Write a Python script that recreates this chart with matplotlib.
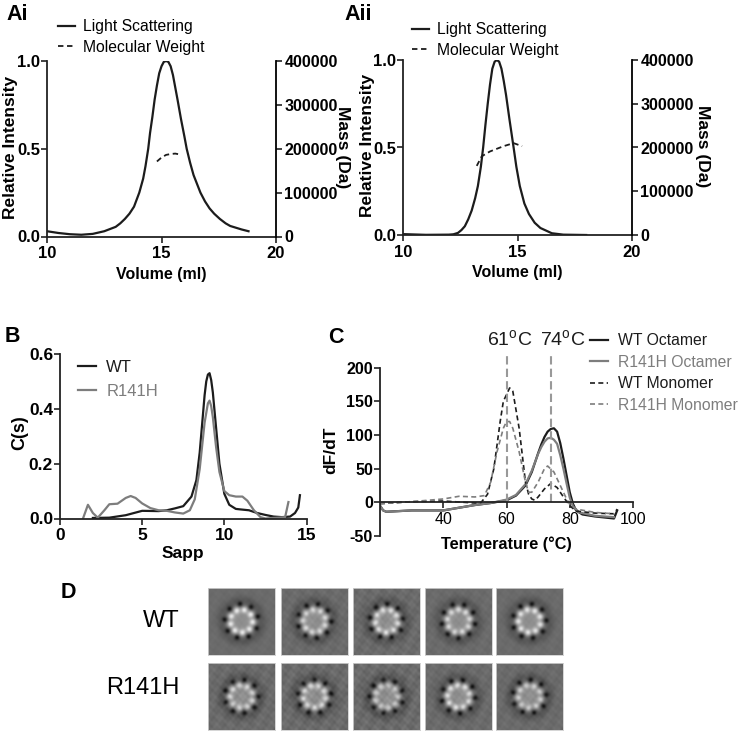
import numpy as np
import matplotlib
matplotlib.use('Agg')
import matplotlib.pyplot as plt

plt.rcParams['font.family'] = 'Liberation Sans'
plt.rcParams['mathtext.fontset'] = 'custom'
plt.rcParams['mathtext.rm'] = 'Liberation Sans'
plt.rcParams['axes.unicode_minus'] = False

W, H = 742, 733
BLACK = '#1c1c1c'
GREY = '#7d7d7d'

# Ai
AI_VOL = [10, 10.5, 11, 11.5, 12, 12.5, 13, 13.2, 13.4, 13.6, 13.8, 14.03, 14.2, 14.3, 14.42, 14.5, 14.6, 14.7,
          14.8, 14.9, 15, 15.1, 15.2, 15.3, 15.4, 15.5, 15.6, 15.7, 15.85, 16, 16.1, 16.25, 16.4, 16.55, 16.7,
          16.9, 17.1, 17.3, 17.55, 17.8, 18, 18.5, 18.8]
AI_LS = [.03, .02, .013, .01, .015, .03, .055, .075, .1, .13, .17, .25, .33, .4, .5, .59, .68, .78,
         .86, .93, .97, .995, 1.0, .995, .97, .92, .85, .78, .67, .57, .5, .42, .35, .3, .25,
         .2, .16, .13, .1, .075, .06, .04, .03]
AI_MW_VOL = [14.8, 15, 15.2, 15.4, 15.6, 15.8]
AI_MW = [171000, 180000, 186000, 188000, 189000, 187000]

# Aii
AII_VOL = [10, 11, 12, 12.2, 12.4, 12.55, 12.7, 12.85, 13, 13.15, 13.27, 13.4, 13.5, 13.6, 13.7, 13.8, 13.9, 14,
           14.1, 14.2, 14.3, 14.4, 14.5, 14.65, 14.83, 14.95, 15.1, 15.3, 15.5, 15.75, 16, 16.5, 17, 18]
AII_LS = [.005, .001, .002, .004, .012, .028, .05, .09, .14, .21, .28, .39, .5, .63, .75, .86, .95, .99,
          1.0, .99, .95, .88, .8, .66, .5, .39, .28, .18, .12, .07, .04, .01, .002, 0]
AII_MW_VOL = [13.22, 13.44, 13.8, 14.39, 14.83, 15.2]
AII_MW = [158000, 180000, 191000, 203000, 210000, 203000]

# B
WT_S = [2, 3, 4, 4.5, 5, 6, 6.5, 7, 7.5, 8, 8.3, 8.5, 8.7, 8.8, 8.9, 9, 9.1, 9.2, 9.3, 9.5, 9.7, 10, 10.3, 10.7,
        11, 11.5, 12, 12.5, 13, 13.5, 14, 14.3, 14.5, 14.6]
WT_C = [.002, .003, .012, .02, .028, .027, .03, .037, .045, .08, .14, .24, .38, .45, .5, .525, .53, .505, .46,
        .33, .2, .09, .05, .035, .033, .03, .02, .013, .007, .005, .007, .02, .04, .085]
MUT_S = [1.4, 1.7, 2, 2.3, 2.7, 3, 3.5, 4, 4.3, 4.6, 5, 5.5, 6, 6.5, 7, 7.5, 7.9, 8.2, 8.5, 8.8, 9, 9.1,
         9.2, 9.3, 9.5, 9.7, 10, 10.3, 10.7, 11.1, 11.4, 11.8, 12.2, 12.5, 13.7, 13.9]
MUT_C = [0, .05, .02, .003, .03, .052, .054, .075, .082, .075, .055, .038, .03, .028, .022, .018, .03,
         .07, .18, .35, .42, .43, .41, .37, .26, .17, .1, .085, .08, .08, .065, .03, .005, 0, .005, .06]

# C
WT_OCT_T = [20, 21, 22, 30, 40, 45, 50, 55, 60, 63, 66, 68, 70, 71, 72, 73, 74, 75, 76, 77, 78, 79, 80, 81, 82, 84,
            88, 92, 94, 95]
WT_OCT = [-5, -12, -14, -12, -12, -8, -4, -1, 3, 10, 25, 45, 73, 86, 97, 105, 109, 110, 105, 88, 65, 40, 15, -2, -12,
          -18, -21, -23, -24, -12]
MUT_OCT_T = [20, 21, 22, 30, 40, 45, 50, 55, 60, 63, 66, 68, 70, 71, 72, 73, 74, 75, 76, 77, 78, 79, 80, 81, 83, 88, 94]
MUT_OCT = [-5, -12, -14, -12, -12, -8, -4, -1, 4, 11, 27, 47, 72, 82, 90, 95, 96, 93, 87, 70, 50, 28, 7, -6, -15, -20, -22]
WT_MON_T = [20, 30, 40, 50, 52, 54, 56, 58, 59, 60, 61, 62, 64, 65, 66, 67, 68, 69, 70, 72, 74, 76, 78,
            80, 82, 88, 94, 95]
WT_MON = [-2, 1, 2, -1, 0, 12, 50, 120, 150, 160, 170, 165, 110, 70, 30, 12, 5, 3, 8, 20, 28, 22, 8,
          -5, -13, -16, -17, -10]
MUT_MON_T = [20, 30, 40, 45, 50, 53, 55, 57, 59, 60, 61, 62, 64, 66, 67, 68, 70, 72, 73, 75, 77, 79, 80,
             82, 88, 94]
MUT_MON = [-2, 1, 5, 9, 8, 10, 30, 75, 110, 120, 120, 110, 75, 30, 15, 15, 30, 50, 54, 45, 25, 5, -3,
           -10, -15, -17]
TM_LINES = [60.3, 74.2]
TM_LABELS = ['61$^{\\mathrm{o}}$C', '74$^{\\mathrm{o}}$C']

# D, rotation of the ring and lobe brightness of each class average
ROWS = ['WT', 'R141H']
ROTATION = [[5, 22, 12, 30, 18], [20, 10, 0, 25, 14]]
LOBES = [[1.0, .85, .9, .85, .95], [.8, .85, .7, .9, .75]]
SPECKLE = [[.5, 1.0, 1.3, .8, .6], [1.3, 1.5, 1.6, 1.1, 1.0]]
IMG_LEFT = [208, 281, 353, 425, 496]
IMG_TOP = [588, 663]


def px_axes(left, top, right, bottom):
    return fig.add_axes([left / W, 1 - bottom / H, (right - left) / W, (bottom - top) / H])


def tidy(ax, size=11.5):
    for side in ['top', 'right']:
        ax.spines[side].set_visible(False)
    for spine in ax.spines.values():
        spine.set_linewidth(1.3)
        spine.set_color('#222222')
    ax.tick_params(width=1.2, length=4, pad=3, labelsize=size, color='#222222')
    ax.tick_params(axis='y', pad=1)
    for lab in ax.get_xticklabels() + ax.get_yticklabels():
        lab.set_fontweight('bold')


def panel_a(left, top, bottom, vol, ls, mw_vol, mw, leg_x, leg_y, rel_x, mass_x):
    ax = px_axes(left, top, left + 229, bottom)
    ax.plot(vol, ls, color=BLACK, lw=1.6, label='Light Scattering')
    ax.plot([], [], color=BLACK, lw=1.3, ls=(0, (3, 2)), label='Molecular Weight')
    ax.set_xlim(10, 20)
    ax.set_ylim(0, 1)
    ax.set_xticks([10, 15, 20])
    ax.set_yticks([0, .5, 1])
    ax.set_yticklabels(['0.0', '0.5', '1.0'])
    tidy(ax, 12)
    ax.set_xlabel('Volume (ml)', fontsize=11.5, fontweight='bold', labelpad=4)
    ax.set_ylabel('Relative Intensity', fontsize=12.5, fontweight='bold')
    ax.yaxis.set_label_coords((rel_x - left) / 229, .51)

    ax2 = ax.twinx()
    ax2.plot(mw_vol, mw, color=BLACK, lw=1.3, ls=(0, (3, 2)))
    ax2.set_ylim(0, 400000)
    ax2.set_yticks([0, 100000, 200000, 300000, 400000])
    ax2.spines['top'].set_visible(False)
    ax2.spines['right'].set_linewidth(1.3)
    ax2.spines['left'].set_visible(False)
    ax2.spines['bottom'].set_visible(False)
    ax2.tick_params(width=1.2, length=4, pad=2, labelsize=11.5, color='#222222')
    for lab in ax2.get_yticklabels():
        lab.set_fontweight('bold')
    ax2.set_ylabel('Mass (Da)', fontsize=12.5, fontweight='bold', rotation=270)
    ax2.yaxis.set_label_coords((mass_x - left) / 229, .51)

    fig.legend(*ax.get_legend_handles_labels(), loc='center left', frameon=False, fontsize=11.3,
               bbox_to_anchor=(leg_x / W, 1 - leg_y / H), handlelength=1.1, handletextpad=.5,
               labelspacing=.35, borderpad=0, borderaxespad=0)


def class_average(rot, lobe, speckle):
    n = 44
    y, x = np.mgrid[0:n, 0:n]
    x = (x - n / 2 + .5) / n
    y = (y - n / 2 + .5) / n
    img = np.full(x.shape, 0.42)
    # faint texture, not measured, only there to look like the grainy background
    img += speckle * .012 * (np.sin(31 * x + 13 * y + rot) + np.sin(47 * y - 29 * x + rot * 2)
                             + np.sin(71 * x + 59 * y + rot * 3) + np.cos(83 * x - 67 * y + rot))
    r = np.hypot(x, y)
    img += .14 * np.exp(-(r / .15) ** 4)
    img -= .08 * np.exp(-((r - .3) / .07) ** 2)
    for k in range(9):
        a = np.deg2rad(rot + k * 40)
        img += .52 * lobe * np.exp(-((x - .17 * np.cos(a)) ** 2 + (y - .17 * np.sin(a)) ** 2) / .0021)
        b = a + np.deg2rad(20)
        img -= .36 * np.exp(-((x - .25 * np.cos(b)) ** 2 + (y - .25 * np.sin(b)) ** 2) / .0012)
    return img


fig = plt.figure(figsize=(W / 100, H / 100), dpi=100)

panel_a(47, 61, 236.5, AI_VOL, AI_LS, AI_MW_VOL, AI_MW, 58, 37, 18, 350)
panel_a(403, 60, 235, AII_VOL, AII_LS, AII_MW_VOL, AII_MW, 412, 40, 375, 710)

# B
ax = px_axes(60, 354, 306.5, 518.5)
ax.plot(WT_S, WT_C, color=BLACK, lw=1.6, label='WT')
ax.plot(MUT_S, MUT_C, color=GREY, lw=1.6, label='R141H')
ax.set_xlim(0, 15)
ax.set_ylim(0, .6)
ax.set_xticks([0, 5, 10, 15])
ax.set_yticks([0, .2, .4, .6])
ax.set_yticklabels(['0.0', '0.2', '0.4', '0.6'])
tidy(ax, 12.5)
ax.set_xlabel('Sapp', fontsize=12.5, fontweight='bold', labelpad=2)
ax.set_ylabel('C(s)', fontsize=13, fontweight='bold')
ax.yaxis.set_label_coords((28 - 60) / 246.5, .52)
ax.legend(loc='center left', frameon=False, fontsize=12, bbox_to_anchor=(78 / W, 1 - 379.5 / H),
          bbox_transform=fig.transFigure, handlelength=1.05, handletextpad=.65, labelspacing=.55,
          borderpad=0, borderaxespad=0, labelcolor=[BLACK, GREY])

# C
ax = px_axes(380, 367.7, 633, 536)
ax.plot(WT_OCT_T, WT_OCT, color=BLACK, lw=1.6, label='WT Octamer')
ax.plot(MUT_OCT_T, MUT_OCT, color=GREY, lw=1.6, label='R141H Octamer')
ax.plot(WT_MON_T, WT_MON, color=BLACK, lw=1.2, ls=(0, (3, 2)), label='WT Monomer')
ax.plot(MUT_MON_T, MUT_MON, color=GREY, lw=1.2, ls=(0, (3, 2)), label='R141H Monomer')
for t, lab, tx in zip(TM_LINES, TM_LABELS, [510, 563]):
    ax.plot([t, t], [0, 222], color='#999999', lw=1.5, ls=(0, (4, 2)), clip_on=False)
    fig.text(tx / W, 1 - 340 / H, lab, fontsize=14, ha='center', va='center', color=BLACK)
ax.set_xlim(20, 100)
ax.set_ylim(-50, 200)
ax.set_xticks([40, 60, 80, 100])
ax.set_yticks([-50, 0, 50, 100, 150, 200])
tidy(ax, 11.5)
ax.spines['bottom'].set_position(('data', 0))
ax.set_xlabel('Temperature (°C)', fontsize=11.7, fontweight='bold')
ax.xaxis.set_label_coords(.5, 0)
ax.set_ylabel('dF/dT', fontsize=12.5, fontweight='bold')
ax.yaxis.set_label_coords((338 - 380) / 253, .51)
fig.legend(*ax.get_legend_handles_labels(), loc='center left', frameon=False, fontsize=11.3,
           bbox_to_anchor=(590 / W, 1 - 373 / H), handlelength=1.15, handletextpad=.65, labelspacing=.42,
           borderpad=0, borderaxespad=0, labelcolor=[BLACK, GREY, BLACK, GREY])

# D
for i, top in enumerate(IMG_TOP):
    for j, left in enumerate(IMG_LEFT):
        ax = px_axes(left, top, left + 67, top + 67)
        ax.imshow(class_average(ROTATION[i][j], LOBES[i][j], SPECKLE[i][j]), cmap='gray', vmin=0, vmax=1,
                  interpolation='bicubic', aspect='auto')
        ax.set_xticks([])
        ax.set_yticks([])
        for spine in ax.spines.values():
            spine.set_color('#cfcfcf')
            spine.set_linewidth(.6)
fig.text(161 / W, 1 - 621 / H, ROWS[0], fontsize=17, ha='center', va='center', color='black')
fig.text(142.5 / W, 1 - 688 / H, ROWS[1], fontsize=17, ha='center', va='center', color='black')

# panel letters
for txt, x, y in [('Ai', 6, 15), ('Aii', 344, 15), ('B', 5, 337), ('C', 328, 338), ('D', 61, 592)]:
    fig.text(x / W, 1 - y / H, txt, fontsize=15.5, fontweight='bold', ha='left', va='center', color='black')

fig.savefig('out.png', dpi=100)
